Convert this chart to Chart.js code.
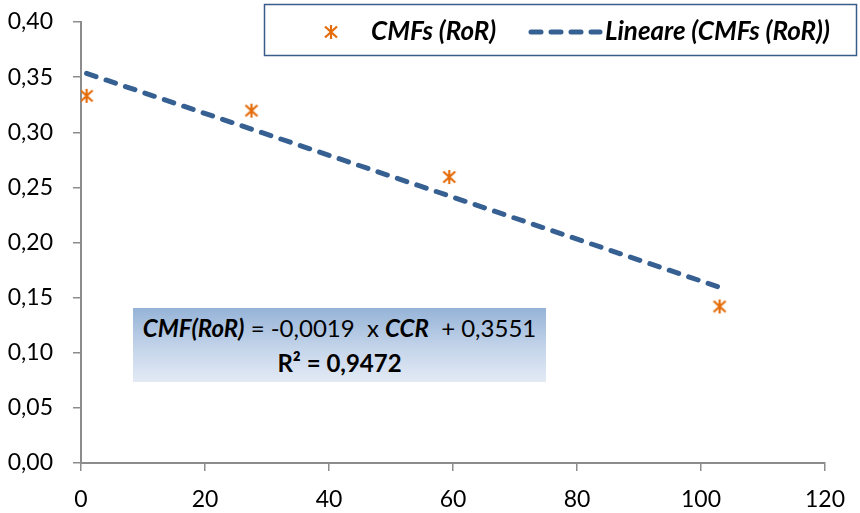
<!DOCTYPE html>
<html>
<head>
<meta charset="utf-8">
<script src="https://cdn.jsdelivr.net/npm/chart.js@4/dist/chart.umd.min.js"></script>
<style>
    body { margin: 0; background: #fff; }
    #wrap { position: relative; width: 860px; height: 513px; }
    #eq {
        position: absolute; left: 133px; top: 308px; width: 413px; height: 74px;
        background: linear-gradient(to bottom, #95b3d7 0%, #c5d5ea 55%, #e3eaf5 100%);
        font-family: Lato, "Open Sans", sans-serif; font-size: 24px; color: #000;
        text-align: center; line-height: 35px; padding-top: 2px; box-sizing: border-box;
    }
    #eq b { font-weight: bold; }
</style>
</head>
<body>
<div id="wrap">
    <canvas id="myChart" width="860" height="513"></canvas>
    <div id="eq">
        <div><b><i>CMF(RoR)</i></b> = -0,0019&nbsp; x <b><i>CCR</i></b>&nbsp; + 0,3551</div>
        <div><b>R² = 0,9472</b></div>
    </div>
</div>
<script>
(() => {
    // valori
    let ccr = [0.9, 27.5, 59.4, 103],
        cmf = [0.333, 0.3196, 0.2594, 0.142];
    let slope = -0.0019,
        intercept = 0.3551;
    let xTicks = [0, 20, 40, 60, 80, 100, 120],
        yTicks = [0, 0.05, 0.10, 0.15, 0.20, 0.25, 0.30, 0.35, 0.40];

    let orange = '#e46c0a',
        blue = '#376092',
        axisGray = '#8c8c8c',
        font = 'Lato, "Open Sans", sans-serif';

    // marker a stella come in Excel (X + barra verticale)
    let star = document.createElement('canvas');
    star.width = 16; star.height = 16;
    let sc = star.getContext('2d');
    sc.strokeStyle = orange;
    sc.lineWidth = 2.2;
    sc.beginPath();
    sc.moveTo(2, 2.5); sc.lineTo(14, 13.5);
    sc.moveTo(14, 2.5); sc.lineTo(2, 13.5);
    sc.moveTo(8, 1); sc.lineTo(8, 15);
    sc.stroke();

    let points = ccr.map((v, i) => ({x: v, y: cmf[i]}));
    let x0 = Math.min(...ccr), x1 = Math.max(...ccr);
    let trend = [{x: x0, y: slope * x0 + intercept}, {x: x1, y: slope * x1 + intercept}];

    let legendBox = {
        id: 'legendBox',
        afterDraw(chart) {
            let c = chart.ctx;
            c.save();
            c.strokeStyle = '#385d8a';
            c.lineWidth = 1.5;
            c.fillStyle = '#fff';
            c.fillRect(264, 4, 593, 52);
            c.strokeRect(264.5, 4.5, 592, 51);
            c.drawImage(star, 323, 24);
            c.fillStyle = '#000';
            c.font = 'italic bold 26px ' + font;
            c.textBaseline = 'middle';
            c.fillText('CMFs (RoR)', 371, 32);
            c.strokeStyle = blue;
            c.lineWidth = 5;
            c.lineCap = 'round';
            c.setLineDash([10, 10]);
            c.beginPath();
            c.moveTo(531, 32); c.lineTo(600, 32);
            c.stroke();
            c.setLineDash([]);
            c.fillText('Lineare (CMFs (RoR))', 605, 32);
            c.restore();
        }
    };

    let ctx = document.getElementById('myChart');
    let myChart = new Chart(ctx, {
        type: 'scatter',
        data: {
            datasets: [{
                    label: 'CMFs (RoR)',
                    data: points,
                    pointStyle: star,
                    pointRadius: 8,
                    showLine: false,
                    order: 1
                },
                {
                    label: 'Lineare (CMFs (RoR))',
                    data: trend,
                    showLine: true,
                    borderColor: blue,
                    borderWidth: 5,
                    borderDash: [10, 10.5],
                    borderCapStyle: 'round',
                    pointRadius: 0,
                    order: 2
                }
            ]
        },
        options: {
            responsive: false,
            animation: false,
            layout: {padding: {top: 22, right: 35, left: 0, bottom: 0}},
            plugins: {legend: {display: false}, tooltip: {enabled: false}},
            scales: {
                x: {
                    type: 'linear', min: 0, max: 120,
                    afterBuildTicks: s => { s.ticks = xTicks.map(v => ({value: v})); },
                    afterFit: s => { s.height = 50; s.paddingLeft = 0; s.paddingRight = 0; },
                    grid: {drawOnChartArea: false, drawTicks: true, tickLength: 8, color: axisGray, lineWidth: 1.5},
                    border: {color: axisGray, width: 2},
                    ticks: {font: {family: font, size: 23}, color: '#000', padding: 15, maxRotation: 0}
                },
                y: {
                    min: 0, max: 0.4,
                    afterBuildTicks: s => { s.ticks = yTicks.map(v => ({value: v})); },
                    afterFit: s => { s.width = 81; s.paddingTop = 0; s.paddingBottom = 0; },
                    grid: {drawOnChartArea: false, drawTicks: true, tickLength: 8, color: axisGray, lineWidth: 1.5},
                    border: {color: axisGray, width: 2},
                    ticks: {
                        font: {family: font, size: 23}, color: '#000', padding: 20,
                        callback: v => v.toFixed(2).replace('.', ',')
                    }
                }
            }
        },
        plugins: [legendBox]
    });
})();
</script>
</body>
</html>
